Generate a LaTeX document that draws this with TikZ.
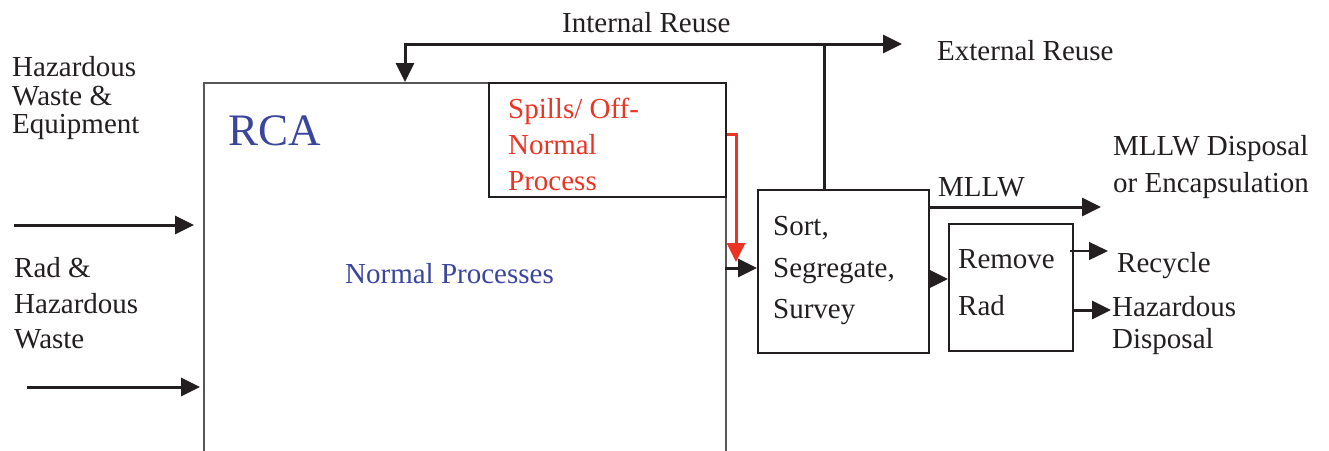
\documentclass[tikz,border=0pt]{standalone}
\usepackage{fontspec}
\setmainfont{Liberation Serif}
\usetikzlibrary{arrows.meta}
\definecolor{inkred}{RGB}{236,52,36}
\definecolor{inkblue}{RGB}{58,70,156}
\definecolor{ink}{RGB}{35,31,32}
\begin{document}
\begin{tikzpicture}[x=1pt,y=-1pt,
  lbl/.style={inner sep=0pt, anchor=base west, font=\fontsize{29}{29}\selectfont, text=ink},
  box/.style={draw=ink, line width=2pt, inner sep=0pt, anchor=north west},
  arr/.style={draw=ink, line width=3pt, -{Triangle[length=19pt,width=18pt]}},
  redarr/.style={draw=inkred, line width=3pt, -{Triangle[length=19pt,width=18pt]}},
  thinarr/.style={draw=ink, line width=1.3pt, -{Triangle[length=19pt,width=18pt]}}]
\path[use as bounding box, clip] (0,0) rectangle (1329,450);
% boxes
\node[box, draw=ink!75, line width=1.5pt, minimum width=522pt, minimum height=400pt] (rca) at (203,82) {};
\node[box, minimum width=237pt, minimum height=114pt] (spills) at (488,82) {};
\node[box, minimum width=171pt, minimum height=163pt] (sort) at (757,189) {};
\node[box, minimum width=124pt, minimum height=127pt] (rem) at (948,223) {};
% texts
\node[lbl] (tIR) at (562,32) {Internal Reuse};
\node[lbl] (tER) at (937,60) {External Reuse};
\node[lbl] (tH1) at (12,76) {Hazardous};
\node[lbl] (tH2) at (12,105) {Waste \&};
\node[lbl] (tH3) at (12,133) {Equipment};
\node[lbl, font=\fontsize{45}{45}\selectfont, text=inkblue] (tRCA) at (228,145) {RCA};
\node[lbl, text=inkred] (tS1) at (508,118) {Spills/ Off-};
\node[lbl, text=inkred] (tS2) at (508,154) {Normal};
\node[lbl, text=inkred] (tS3) at (508,190) {Process};
\node[lbl, text=inkblue] (tNP) at (345,283) {Normal Processes};
\node[lbl] (tSo1) at (773,235) {Sort,};
\node[lbl] (tSo2) at (773,277) {Segregate,};
\node[lbl] (tSo3) at (773,318) {Survey};
\node[lbl] (tML) at (938,196) {MLLW};
\node[lbl] (tMD1) at (1113,155) {MLLW Disposal};
\node[lbl] (tMD2) at (1113,192) {or Encapsulation};
\node[lbl] (tRe1) at (958,268) {Remove};
\node[lbl] (tRe2) at (958,315) {Rad};
\node[lbl] (tRc) at (1117,272) {Recycle};
\node[lbl] (tHD1) at (1112,316) {Hazardous};
\node[lbl] (tHD2) at (1112,348) {Disposal};
\node[lbl] (tRH1) at (14,277) {Rad \&};
\node[lbl] (tRH2) at (14,313) {Hazardous};
\node[lbl] (tRH3) at (14,348) {Waste};
% coordinates
\coordinate (in1) at (14,225);
\coordinate (in1e) at (194,225);
\coordinate (in2) at (27,387);
\coordinate (in2e) at (200,387);
\coordinate (j) at (824,44);
\coordinate (rin) at (405,82);
\coordinate (ext) at (902,44);
\coordinate (r1) at (727,134);
\coordinate (r2) at (736,134);
\coordinate (r3) at (736,262);
\coordinate (a1) at (725,268);
\coordinate (a2) at (928,279);
\coordinate (m1) at (928,207);
\coordinate (m2) at (1101,207);
\coordinate (rc1) at (1070,251);
\coordinate (rc2) at (1108,251);
\coordinate (hd1) at (1072,310);
\coordinate (hd2) at (1111,310);
% connectors
\draw[arr] (in1) -- (in1e);
\draw[arr] (in2) -- (in2e);
\draw[arr] (j |- sort.north) -- (j) -| (rin);
\draw[arr] (j) -- (ext);
\draw[redarr] (r1) -- (r2) -- (r3);
\draw[arr] (a1) -- (a1 -| sort.west);
\draw[arr] (a2) -- (a2 -| rem.west);
\draw[arr] (m1) -- (m2);
\draw[thinarr] (rc1) -- (rc2);
\draw[arr] (hd1) -- (hd2);
\end{tikzpicture}
\end{document}
